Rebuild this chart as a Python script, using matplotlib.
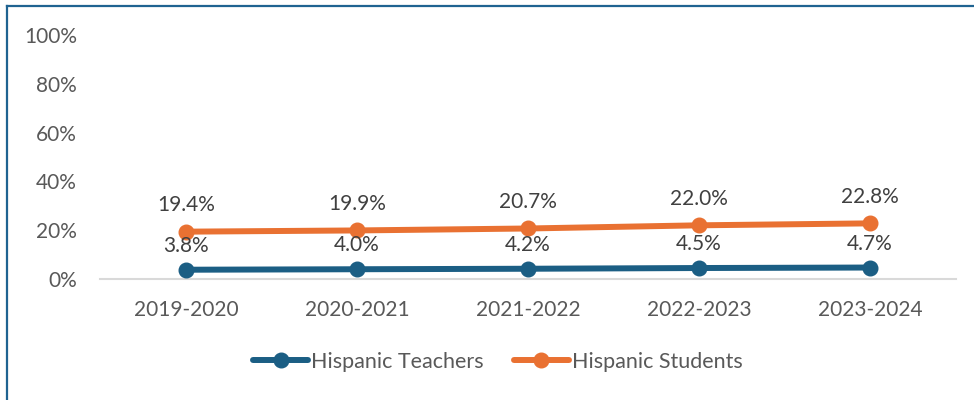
import matplotlib
matplotlib.use("Agg")
import matplotlib.pyplot as plt
from matplotlib.lines import Line2D
from matplotlib.ticker import FuncFormatter

plt.rcParams['font.family'] = ['Lato', 'DejaVu Sans']

years = ["2019-2020", "2020-2021", "2021-2022", "2022-2023", "2023-2024"]
teachers = [3.8, 4.0, 4.2, 4.5, 4.7]
students = [19.4, 19.9, 20.7, 22.0, 22.8]
yticks = [0, 20, 40, 60, 80, 100]

BLUE = "#1B5E84"
ORANGE = "#E97132"
TICK_GRAY = "#595959"
LABEL_GRAY = "#404040"
FS = 15

fig = plt.figure(figsize=(9.74, 4.0), dpi=100)
ax = fig.add_axes([100.5 / 974, 1 - 279 / 400, 855 / 974, 244 / 400])

x = list(range(len(years)))
ax.plot(x, teachers, color=BLUE, lw=4.3, marker="o", ms=10.5, solid_capstyle="round",
        label="Hispanic Teachers", zorder=3)
ax.plot(x, students, color=ORANGE, lw=4.3, marker="o", ms=10.5, solid_capstyle="round",
        label="Hispanic Students", zorder=3)

for xi, v in zip(x, teachers):
    ax.annotate(f"{v:.1f}%", (xi, v), xytext=(0, 10), textcoords="offset points",
                ha="center", va="bottom", fontsize=FS, color=LABEL_GRAY)
for xi, v in zip(x, students):
    ax.annotate(f"{v:.1f}%", (xi, v), xytext=(0, 12), textcoords="offset points",
                ha="center", va="bottom", fontsize=FS, color=LABEL_GRAY)

ax.set_xlim(-0.5, len(years) - 0.5)
ax.set_ylim(0, 100)
ax.set_yticks(yticks)
ax.yaxis.set_major_formatter(FuncFormatter(lambda v, p: f"{v:.0f}%"))
ax.set_xticks(x)
ax.set_xticklabels(years)
ax.tick_params(axis="both", length=0, labelsize=FS, labelcolor=TICK_GRAY)
ax.tick_params(axis="y", pad=17)
ax.tick_params(axis="x", pad=15)

for s in ["top", "right", "left"]:
    ax.spines[s].set_visible(False)
ax.spines["bottom"].set_color("#D9D9D9")
ax.spines["bottom"].set_linewidth(1.5)

handles = [
    Line2D([], [], color=BLUE, lw=4.3, marker="o", ms=10.5, solid_capstyle="round"),
    Line2D([], [], color=ORANGE, lw=4.3, marker="o", ms=10.5, solid_capstyle="round"),
]
leg = fig.legend(handles, ["Hispanic Teachers", "Hispanic Students"], loc="center",
                 bbox_to_anchor=(498 / 974, 1 - 362 / 400), ncol=2, frameon=False,
                 fontsize=15.5, handlelength=2.55, handletextpad=0.15, columnspacing=1.4)
for t in leg.get_texts():
    t.set_color(TICK_GRAY)

# frame edges along the top and left
fig.add_artist(Line2D([6.5 / 974, 1.0], [1 - 5.5 / 400, 1 - 5.5 / 400],
                      transform=fig.transFigure, color="#1F6391", lw=1.6))
fig.add_artist(Line2D([6.5 / 974, 6.5 / 974], [0.0, 1 - 5.5 / 400],
                      transform=fig.transFigure, color="#1F6391", lw=1.6))

fig.savefig("out.png", dpi=100)
